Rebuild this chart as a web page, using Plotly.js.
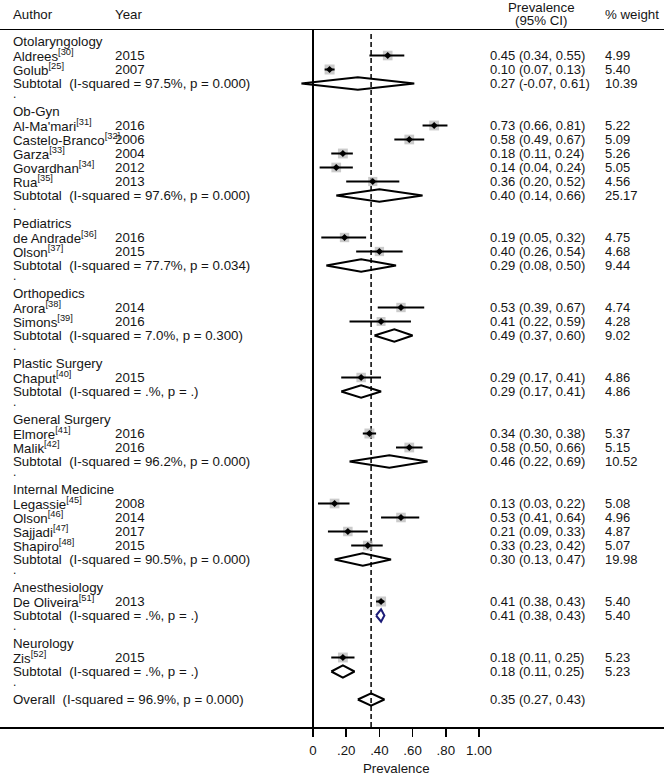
<!DOCTYPE html>
<html>
<head>
<meta charset="utf-8">
<script src="https://cdn.plot.ly/plotly-3.0.1.min.js"></script>
<style>
body{margin:0;background:#fff}
#plot{width:664px;height:777px}
</style>
</head>
<body>
<div id="plot"></div>
<script>
// specialties (subgroups)
var groups = ['Otolaryngology', 'Ob-Gyn', 'Pediatrics', 'Orthopedics', 'Plastic Surgery',
              'General Surgery', 'Internal Medicine', 'Anesthesiology', 'Neurology'];

// individual studies
var studyAuthor = ['Aldrees', 'Golub', "Al-Ma'mari", 'Castelo-Branco', 'Garza', 'Govardhan', 'Rua',
                   'de Andrade', 'Olson', 'Arora', 'Simons', 'Chaput', 'Elmore', 'Malik',
                   'Legassie', 'Olson', 'Sajjadi', 'Shapiro', 'De Oliveira', 'Zis'];
var studyRef = [30, 25, 31, 32, 33, 34, 35, 36, 37, 38, 39, 40, 41, 42, 45, 46, 47, 48, 51, 52];
var studyYear = [2015, 2007, 2016, 2006, 2004, 2012, 2013, 2016, 2015, 2014, 2016, 2015, 2016, 2016,
                 2008, 2014, 2017, 2015, 2013, 2015];
var studyGroup = [0, 0, 1, 1, 1, 1, 1, 2, 2, 3, 3, 4, 5, 5, 6, 6, 6, 6, 7, 8];
var studyEst = [0.45, 0.10, 0.73, 0.58, 0.18, 0.14, 0.36, 0.19, 0.40, 0.53, 0.41, 0.29, 0.34, 0.58,
                0.13, 0.53, 0.21, 0.33, 0.41, 0.18];
var studyLo = [0.34, 0.07, 0.66, 0.49, 0.11, 0.04, 0.20, 0.05, 0.26, 0.39, 0.22, 0.17, 0.30, 0.50,
               0.03, 0.41, 0.09, 0.23, 0.38, 0.11];
var studyHi = [0.55, 0.13, 0.81, 0.67, 0.24, 0.24, 0.52, 0.32, 0.54, 0.67, 0.59, 0.41, 0.38, 0.66,
               0.22, 0.64, 0.33, 0.42, 0.43, 0.25];
var studyWeight = [4.99, 5.40, 5.22, 5.09, 5.26, 5.05, 4.56, 4.75, 4.68, 4.74, 4.28, 4.86, 5.37, 5.15,
                   5.08, 4.96, 4.87, 5.07, 5.40, 5.23];

// subtotals per specialty
var subI2 = [97.5, 97.6, 77.7, 7.0, null, 96.2, 90.5, null, null];
var subP = [0.000, 0.000, 0.034, 0.300, null, 0.000, 0.000, null, null];
var subEst = [0.27, 0.40, 0.29, 0.49, 0.29, 0.46, 0.30, 0.41, 0.18];
var subLo = [-0.07, 0.14, 0.08, 0.37, 0.17, 0.22, 0.13, 0.38, 0.11];
var subHi = [0.61, 0.66, 0.50, 0.60, 0.41, 0.69, 0.47, 0.43, 0.25];
var subWeight = [10.39, 25.17, 9.44, 9.02, 4.86, 10.52, 19.98, 5.40, 5.23];

// overall
var overallEst = 0.35, overallLo = 0.27, overallHi = 0.43;
var overallI2 = 96.9, overallP = 0.000;

var tickVals = [0, 0.2, 0.4, 0.6, 0.8, 1.0];
var tickText = ['0', '.20', '.40', '.60', '.80', '1.00'];

var W = 664;
var FONT = 'Liberation Sans, Arial, Helvetica, sans-serif';
var TXT = '#151515';
var navyGroup = 'Anesthesiology';

var annotations = [];
function label(txt, px, row, anchor, size) {
  annotations.push({
    xref: 'paper', yref: 'y', x: px / W, y: row, text: txt, showarrow: false,
    xanchor: anchor || 'left', yanchor: 'middle',
    font: {family: FONT, size: size || 13.3, color: TXT}
  });
}
// for texts outside the plot rows (header, axis title): pixel y on the page
function pageLabel(txt, px, py, anchor) {
  annotations.push({
    xref: 'paper', yref: 'paper', x: px / W, y: (727 - py) / 697, text: txt, showarrow: false,
    xanchor: anchor || 'left', yanchor: 'middle',
    font: {family: FONT, size: 13.3, color: TXT}
  });
}
function f2(v) { return v.toFixed(2); }
function ciText(e, lo, hi) { return f2(e) + ' (' + f2(lo) + ', ' + f2(hi) + ')'; }
function hetText(i2, p) {
  return '(I-squared = ' + (i2 === null ? '.' : i2.toFixed(1)) + '%, p = ' +
         (p === null ? '.' : p.toFixed(3)) + ')';
}

var boxX = [], boxY = [], boxS = [];
var ciX = [], ciY = [];
var dmX = [], dmY = [], navyX = [], navyY = [];
var H = 0.44;
function diamond(xs, ys, e, lo, hi, r) {
  xs.push(lo, e, hi, e, lo, null);
  ys.push(r, r - H, r, r + H, r, null);
}

var r = 0;
for (var g = 0; g < groups.length; g++) {
  label(groups[g], 11, r); r++;
  for (var s = 0; s < studyAuthor.length; s++) {
    if (studyGroup[s] !== g) continue;
    label(studyAuthor[s] + '<sup>[' + studyRef[s] + ']</sup>', 11, r);
    label(String(studyYear[s]), 113, r);
    label(ciText(studyEst[s], studyLo[s], studyHi[s]), 488, r, 'left', 13);
    label(studyWeight[s].toFixed(2), 603, r, 'left', 13);
    boxX.push(studyEst[s]); boxY.push(r); boxS.push(10 * Math.sqrt(studyWeight[s] / 5.4));
    ciX.push(studyLo[s], studyHi[s], null); ciY.push(r, r, null);
    r++;
  }
  label('Subtotal \u00a0' + hetText(subI2[g], subP[g]), 11, r);
  label(ciText(subEst[g], subLo[g], subHi[g]), 488, r, 'left', 13);
  label(subWeight[g].toFixed(2), 603, r, 'left', 13);
  if (groups[g] === navyGroup) diamond(navyX, navyY, subEst[g], subLo[g], subHi[g], r);
  else diamond(dmX, dmY, subEst[g], subLo[g], subHi[g], r);
  r++;
  label('.', 11, r - 0.25, 'left', 12); r++;
}
label('Overall \u00a0' + hetText(overallI2, overallP), 11, r);
label(ciText(overallEst, overallLo, overallHi), 488, r, 'left', 13);
diamond(dmX, dmY, overallEst, overallLo, overallHi, r);

// header
pageLabel('Author', 11, 14);
pageLabel('Year', 113, 14);
pageLabel('Prevalence', 541, 7, 'center');
pageLabel('(95% CI)', 541, 21, 'center');
pageLabel('% weight', 603, 14);
// x axis title, centred under 0.5
pageLabel('Prevalence', 313 + 0.5 * 166, 768, 'center');

var data = [
  {x: boxX, y: boxY, mode: 'markers', type: 'scatter', hoverinfo: 'skip',
   marker: {symbol: 'square', size: boxS, color: '#b5b5b5', line: {width: 0}}},
  {x: ciX, y: ciY, mode: 'lines', type: 'scatter', hoverinfo: 'skip',
   line: {color: '#000', width: 2}},
  {x: boxX, y: boxY, mode: 'markers', type: 'scatter', hoverinfo: 'skip',
   marker: {symbol: 'diamond', size: 5.5, color: '#000', line: {width: 0}}},
  {x: dmX, y: dmY, mode: 'lines', type: 'scatter', hoverinfo: 'skip',
   line: {color: '#000', width: 2}},
  {x: navyX, y: navyY, mode: 'lines', type: 'scatter', hoverinfo: 'skip',
   line: {color: '#1c1c78', width: 2}}
];

// plot area top at 30px, bottom at 727px; rows 14px apart, first row at 41.5px
var rowTop = (30 - 41.5) / 14, rowBot = (727 - 41.5) / 14;
var layout = {
  width: 664, height: 777,
  margin: {l: 0, r: 0, t: 30, b: 50},
  paper_bgcolor: '#fff', plot_bgcolor: '#fff',
  showlegend: false,
  xaxis: {
    range: [-313 / 166, (W - 313) / 166],
    showgrid: false,
    zeroline: true, zerolinecolor: '#000', zerolinewidth: 1.5,
    showline: true, linecolor: '#000', linewidth: 1.5, mirror: true,
    ticks: 'outside', ticklen: 8, tickwidth: 1.5, tickcolor: '#000',
    ticklabelstandoff: 3,
    tickvals: tickVals, ticktext: tickText,
    tickfont: {family: FONT, size: 13.3, color: TXT},
    fixedrange: true
  },
  yaxis: {
    range: [rowBot, rowTop],
    visible: false, fixedrange: true
  },
  shapes: [{
    type: 'line', xref: 'x', yref: 'paper', x0: overallEst, x1: overallEst, y0: 0, y1: 0.997,
    layer: 'below', line: {color: '#000', width: 1.5, dash: '5px,3px'}
  }],
  annotations: annotations
};

Plotly.newPlot('plot', data, layout, {displayModeBar: false, staticPlot: true});
</script>
</body>
</html>
